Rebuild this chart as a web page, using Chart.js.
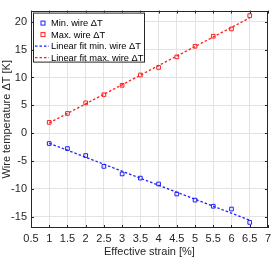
<!DOCTYPE html>
<html>
<head>
<meta charset="utf-8">
<script src="https://cdn.jsdelivr.net/npm/chart.js@4"></script>
<style>
  html, body { margin: 0; padding: 0; background: #fff; }
  #wrap { width: 275px; height: 259px; position: relative; }
</style>
</head>
<body>
<div id="wrap"><canvas id="canvas_wireT"></canvas></div>
<script>
// effective strain [%]
var strain = [1, 1.5, 2, 2.5, 3, 3.5, 4, 4.5, 5, 5.5, 6, 6.5];
// measured wire temperature change [K]
var minWireT = [-1.85, -2.75, -4.0, -5.95, -7.3, -8.05, -9.1, -10.9, -12.0, -13.1, -13.6, -16.0];
var maxWireT = [1.95, 3.55, 5.45, 6.9, 8.6, 10.45, 11.8, 13.7, 15.6, 17.4, 18.7, 21.1];
// linear fit end points
var fitStrain = [1, 6.5];
var fitMinT = [-1.8, -15.6];
var fitMaxT = [1.85, 20.7];

var labels = ["Min. wire \u0394T", "Max. wire \u0394T", "Linear fit min. wire \u0394T", "Linear fit max. wire \u0394T"];
var xTicks = [0.5, 1, 1.5, 2, 2.5, 3, 3.5, 4, 4.5, 5, 5.5, 6, 6.5, 7];
var yTicks = [-15, -10, -5, 0, 5, 10, 15, 20];

var blue = "#1f1fff";
var red = "#ff1f1f";
var txt = "#262626";
var font = "'Liberation Sans', Arial, sans-serif";

function pts(xs, ys) {
	return xs.map(function(x, i) { return { x: x, y: ys[i] }; });
}

// MATLAB style: inner ticks on all four sides + legend box inside the axes
var matlabAxes = {
	id: "matlabAxes",
	afterDraw: function(chart) {
		var ctx = chart.ctx, a = chart.chartArea;
		var xs = chart.scales.x, ys = chart.scales.y;
		ctx.save();
		ctx.strokeStyle = txt;
		ctx.lineWidth = 1;
		ctx.beginPath();
		xTicks.forEach(function(v) {
			var px = Math.round(xs.getPixelForValue(v)) + 0.5;
			ctx.moveTo(px, a.bottom); ctx.lineTo(px, a.bottom - 3);
			ctx.moveTo(px, a.top); ctx.lineTo(px, a.top + 3);
		});
		yTicks.forEach(function(v) {
			var py = Math.round(ys.getPixelForValue(v)) + 0.5;
			ctx.moveTo(a.left, py); ctx.lineTo(a.left + 3, py);
			ctx.moveTo(a.right, py); ctx.lineTo(a.right - 3, py);
		});
		ctx.stroke();
		ctx.strokeRect(Math.round(a.left) + 0.5, Math.round(a.top) + 0.5,
			Math.round(a.right - a.left) - 1, Math.round(a.bottom - a.top) - 1);

		// legend
		var lx = a.left + 2, ly = a.top + 2, lw = 111, lh = 49;
		ctx.fillStyle = "#fff";
		ctx.fillRect(lx, ly, lw, lh);
		ctx.strokeStyle = txt;
		ctx.strokeRect(lx + 0.5, ly + 0.5, lw, lh);
		ctx.font = "9.3px " + font;
		ctx.textBaseline = "middle";
		var rows = [10.5, 22, 33.5, 45];
		chart.data.datasets.forEach(function(ds, i) {
			var y = ly + rows[i];
			if (ds.showLine) {
				ctx.strokeStyle = ds.borderColor;
				ctx.lineWidth = 1.3;
				ctx.setLineDash([2.5, 2]);
				ctx.beginPath();
				ctx.moveTo(lx + 2, y); ctx.lineTo(lx + 16, y);
				ctx.stroke();
				ctx.setLineDash([]);
			} else {
				ctx.strokeStyle = ds.borderColor;
				ctx.lineWidth = 1;
				ctx.strokeRect(lx + 8, y - 2, 4, 4);
			}
			ctx.fillStyle = "#000";
			ctx.fillText(ds.label, lx + 18, y + 0.5);
		});
		ctx.restore();
	}
};

var wireChart = new Chart(document.getElementById("canvas_wireT"), {
	type: "scatter",
	data: {
		datasets: [ {
			label: labels[0],
			data: pts(strain, minWireT),
			borderColor: blue,
			backgroundColor: "rgba(0,0,0,0)",
			pointStyle: "rect",
			pointRadius: 2.6,
			borderWidth: 1,
			showLine: false,
			order: 1
		}, {
			label: labels[1],
			data: pts(strain, maxWireT),
			borderColor: red,
			backgroundColor: "rgba(0,0,0,0)",
			pointStyle: "rect",
			pointRadius: 2.6,
			borderWidth: 1,
			showLine: false,
			order: 1
		}, {
			label: labels[2],
			data: pts(fitStrain, fitMinT),
			borderColor: blue,
			borderWidth: 1.3,
			borderDash: [2.5, 2],
			pointRadius: 0,
			showLine: true,
			order: 2
		}, {
			label: labels[3],
			data: pts(fitStrain, fitMaxT),
			borderColor: red,
			borderWidth: 1.3,
			borderDash: [2.5, 2],
			pointRadius: 0,
			showLine: true,
			order: 2
		} ]
	},
	options: {
		responsive: true,
		maintainAspectRatio: false,
		animation: false,
		layout: { padding: { top: 2, right: 3, left: 0, bottom: 0 } },
		plugins: { legend: { display: false }, tooltip: { enabled: false } },
		scales: {
			x: {
				type: "linear",
				min: 0.5,
				max: 7,
				afterBuildTicks: function(s) { s.ticks = xTicks.map(function(v) { return { value: v }; }); },
				afterFit: function(s) { s.height = 31; },
				grid: { color: "#e3e3e3", drawTicks: false },
				border: { display: false },
				ticks: {
					color: txt, padding: 4, maxRotation: 0, autoSkip: false,
					font: { family: font, size: 11 },
					callback: function(v) { return String(v); }
				},
				title: { display: true, text: "Effective strain [%]", color: txt, padding: { top: 0, bottom: 0 }, font: { family: font, size: 11 } }
			},
			y: {
				type: "linear",
				min: -17,
				max: 22,
				afterBuildTicks: function(s) { s.ticks = yTicks.map(function(v) { return { value: v }; }); },
				afterFit: function(s) { s.width = 31; },
				grid: { color: "#e3e3e3", drawTicks: false },
				border: { display: false },
				ticks: { color: txt, padding: 4, font: { family: font, size: 11 } },
				title: { display: true, text: "Wire temperature \u0394T [K]", color: txt, padding: { top: 0, bottom: 0 }, font: { family: font, size: 11 } }
			}
		}
	},
	plugins: [ matlabAxes ]
});
</script>
</body>
</html>
